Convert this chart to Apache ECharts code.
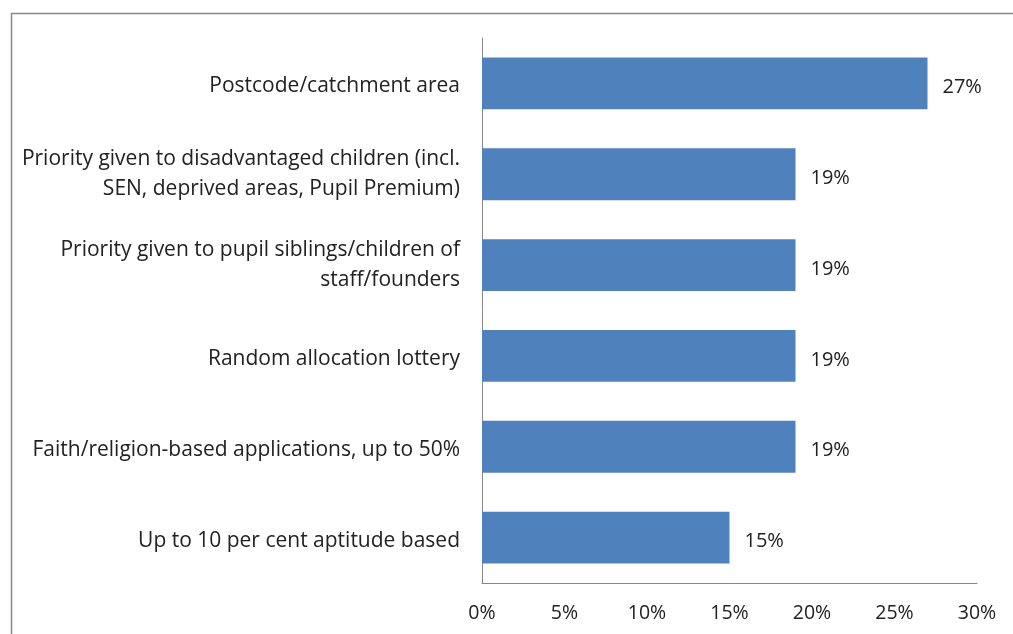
<!DOCTYPE html>
<html><head><meta charset="utf-8">
<script src="https://cdn.jsdelivr.net/npm/echarts@6/dist/echarts.min.js"></script>
<style>html,body{margin:0;padding:0;background:#fff}#c{width:1013px;height:634px}</style>
</head><body><div id="c"></div>
<script>
const categories = [
  "Postcode/catchment area",
  "Priority given to disadvantaged children (incl.\nSEN, deprived areas, Pupil Premium)",
  "Priority given to pupil siblings/children of\nstaff/founders",
  "Random allocation lottery",
  "Faith/religion-based applications, up to 50%",
  "Up to 10 per cent aptitude based"
];
const values = [27, 19, 19, 19, 19, 15];
const xTicks = [0, 5, 10, 15, 20, 25, 30];

const FONT = "Open Sans";
const chart = echarts.init(document.getElementById('c'), null, {renderer: 'canvas'});
chart.setOption({
  animation: false,
  graphic: [{type: 'rect', shape: {x: 11.5, y: 13.5, width: 1100, height: 700}, style: {fill: 'none', stroke: '#888', lineWidth: 1.5}}],
  grid: {left: 482, right: 36, top: 38, bottom: 51},
  xAxis: {
    type: 'value', min: 0, max: 30, interval: 5,
    axisLine: {show: true, lineStyle: {color: '#888', width: 1}},
    axisTick: {show: false},
    splitLine: {show: false},
    axisLabel: {formatter: v => xTicks.includes(v) ? v + '%' : '', color: '#222', fontFamily: FONT, fontSize: 19.5, margin: 20}
  },
  yAxis: {
    type: 'category', inverse: true, data: categories,
    axisLine: {show: true, lineStyle: {color: '#888', width: 1}},
    axisTick: {show: false},
    axisLabel: {
      color: '#222', fontFamily: FONT, fontSize: 21, margin: 22, align: 'right',
      formatter: v => {
        const lines = v.split('\n');
        const k = lines.length === 1 ? 'a' : 'b';
        return lines.map(l => '{' + k + '|' + l + '}').join('\n');
      },
      rich: {
        a: {color: '#222', fontFamily: FONT, fontSize: 21, lineHeight: 24, padding: [6, 0, 0, 0], align: 'right'},
        b: {color: '#222', fontFamily: FONT, fontSize: 21, lineHeight: 30, align: 'right'}
      }
    }
  },
  series: [{
    type: 'bar', data: values, barWidth: '57%',
    itemStyle: {color: '#4F81BD'},
    label: {show: true, position: 'right', distance: 15, offset: [0, 4], formatter: p => p.value + '%', color: '#222', fontFamily: FONT, fontSize: 20}
  }]
});
</script></body></html>
